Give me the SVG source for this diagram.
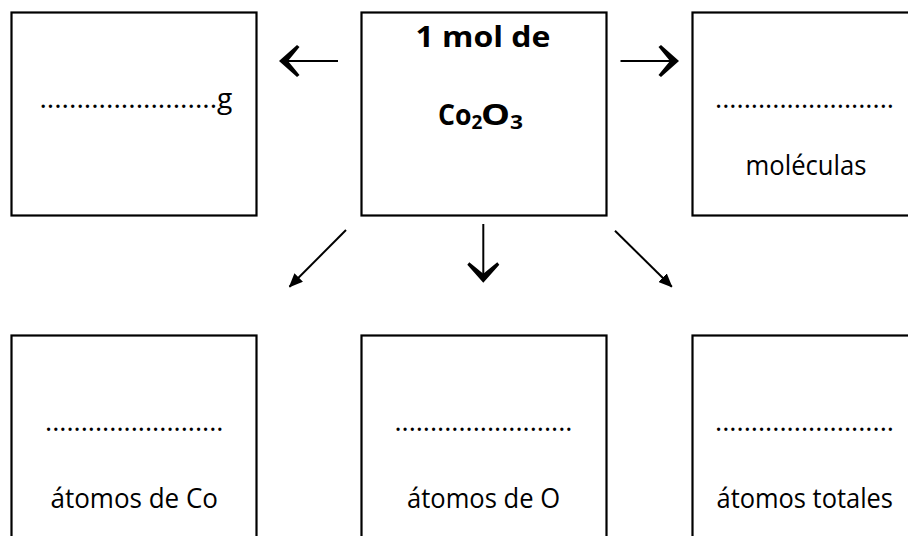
<svg xmlns="http://www.w3.org/2000/svg" width="908" height="536" viewBox="0 0 908 536">
<style>
.box{fill:#fff;stroke:#000;stroke-width:2.2}
.t{font-family:"Open Sans","Liberation Sans",sans-serif;font-size:28px;fill:#000}
.b{font-family:"Open Sans","Liberation Sans",sans-serif;font-weight:bold;font-size:28px;fill:#000}
.s{font-family:"Open Sans","Liberation Sans",sans-serif;font-weight:bold;font-size:19px;fill:#000}
.ln{stroke:#000;stroke-width:2;fill:none}
.hd{fill:#000;stroke:none}
</style>
<defs>
<marker id="tri" viewBox="0 0 14 12" refX="13" refY="6" markerWidth="14" markerHeight="12" markerUnits="userSpaceOnUse" orient="auto">
<path d="M0,0 L14,6 L0,12 Z" fill="#000"/>
</marker>
<path id="chev" d="M1,0 Q-8,-8 -17,-16 L-19.5,-14 Q-13,-6 -8,0 Q-13,6 -19.5,14 L-17,16 Q-8,8 1,0 Z"/>
</defs>
<rect width="908" height="536" fill="#fff"/>

<g id="mass">
<rect class="box" x="11.5" y="12.5" width="245" height="203"/>
<text class="t" x="39.4" y="108" textLength="193" lengthAdjust="spacingAndGlyphs">........................g</text>
</g>

<g id="mol">
<rect class="box" x="361.5" y="12.5" width="245" height="203"/>
<text class="b" x="415.5" y="47" textLength="135" lengthAdjust="spacingAndGlyphs">1 mol de</text>
<text class="b" x="438" y="125" textLength="33.5" lengthAdjust="spacingAndGlyphs">Co</text>
<text class="s" x="471.5" y="128.5">2</text>
<text class="b" x="481" y="125" textLength="29" lengthAdjust="spacingAndGlyphs">O</text>
<text class="s" x="510" y="128.5" textLength="13" lengthAdjust="spacingAndGlyphs">3</text>
</g>

<g id="molecules">
<rect class="box" x="692.5" y="12.5" width="300" height="203"/>
<text class="t" x="715" y="108" textLength="179" lengthAdjust="spacingAndGlyphs">.........................</text>
<text class="t" x="745.5" y="175" textLength="121" lengthAdjust="spacingAndGlyphs">moléculas</text>
</g>

<g id="atomsCo">
<rect class="box" x="11.5" y="335.5" width="245" height="300"/>
<text class="t" x="45" y="431" textLength="178.5" lengthAdjust="spacingAndGlyphs">.........................</text>
<text class="t" x="50.5" y="508" textLength="167.5" lengthAdjust="spacingAndGlyphs">átomos de Co</text>
</g>

<g id="atomsO">
<rect class="box" x="361.5" y="335.5" width="245" height="300"/>
<text class="t" x="394.4" y="431" textLength="178" lengthAdjust="spacingAndGlyphs">.........................</text>
<text class="t" x="407" y="508" textLength="153" lengthAdjust="spacingAndGlyphs">átomos de O</text>
</g>

<g id="atomsTotal">
<rect class="box" x="692.5" y="335.5" width="300" height="300"/>
<text class="t" x="715" y="431" textLength="179" lengthAdjust="spacingAndGlyphs">.........................</text>
<text class="t" x="716.5" y="508" textLength="176.5" lengthAdjust="spacingAndGlyphs">átomos totales</text>
</g>

<g id="connectors">
<line class="ln" x1="338" y1="61" x2="283" y2="61"/>
<use href="#chev" class="hd" transform="translate(280,61) rotate(180)"/>
<line class="ln" x1="620.5" y1="61" x2="675" y2="61"/>
<use href="#chev" class="hd" transform="translate(678,61)"/>
<line class="ln" x1="483.3" y1="224" x2="483.3" y2="279"/>
<use href="#chev" class="hd" transform="translate(483.3,281.7) rotate(90)"/>
<line class="ln" x1="346" y1="230" x2="289.5" y2="286.8" marker-end="url(#tri)"/>
<line class="ln" x1="615" y1="230.7" x2="671.8" y2="286.8" marker-end="url(#tri)"/>
</g>
</svg>
